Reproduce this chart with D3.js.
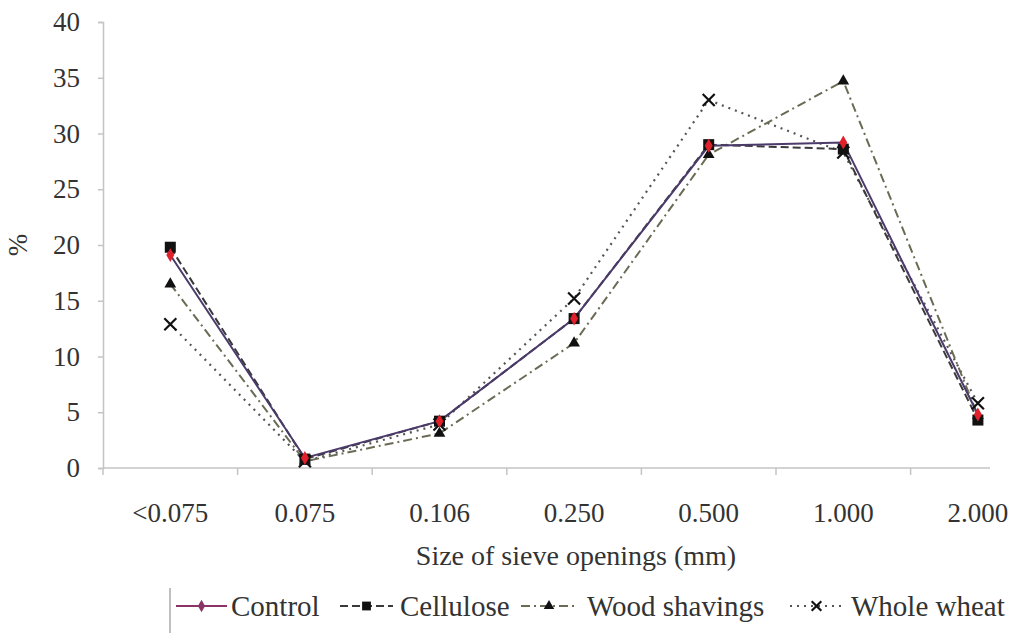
<!DOCTYPE html>
<html><head><meta charset="utf-8">
<script src="https://cdn.jsdelivr.net/npm/d3@7"></script>
<style>body{margin:0;background:#fff}svg{display:block}svg text{font-family:"Times New Roman",Times,"Liberation Serif","DejaVu Serif",serif !important;fill:#333}</style>
</head><body>
<svg id="c" width="1022" height="633"></svg>
<script>
const categories = ["<0.075","0.075","0.106","0.250","0.500","1.000","2.000"];
const yTicks = [0,5,10,15,20,25,30,35,40];
const seriesNames = ["Control","Cellulose","Wood shavings","Whole wheat"];
const control = [19.1,0.9,4.2,13.4,28.9,29.2,4.8];
const cellulose = [19.8,0.8,4.2,13.4,29.0,28.6,4.3];
const woodShavings = [16.5,0.6,3.1,11.2,28.1,34.7,4.7];
const wholeWheat = [12.9,0.6,3.9,15.2,33.0,28.3,5.8];

const FONT = "'Times New Roman', Times, 'Liberation Serif', 'DejaVu Serif', serif";
const styles = [
  {stroke:"#4b3a6a", dash:null, width:2, marker:"diamond", mfill:"#e0202a", lstroke:"#8a3466", lfill:"#8a3466"},
  {stroke:"#3a3a3a", dash:"8,4", width:2, marker:"square", mfill:"#111"},
  {stroke:"#6b6b55", dash:"9,4,2,4", width:2, marker:"triangle", mfill:"#111"},
  {stroke:"#555", dash:"2,5", width:2.2, marker:"cross", mfill:"#111"}
];
const data = [control, cellulose, woodShavings, wholeWheat];

const svg = d3.select("#c");
const left = 103, step = 134.6;
const x = d3.scaleBand().domain(categories).range([left, left + step*categories.length]).padding(0);
const y = d3.scaleLinear().domain([0,40]).range([468,22]);

// y axis
const ya = svg.append("g").attr("transform",`translate(${left},0)`)
  .call(d3.axisLeft(y).tickValues(yTicks).tickSize(5).tickPadding(18));
ya.attr("font-family",FONT);
ya.select(".domain").attr("stroke","#c4c4c4").attr("stroke-width",1.5);
ya.selectAll(".tick line").attr("stroke","#c4c4c4").attr("stroke-width",1.5);
ya.selectAll("text").attr("font-size",27).attr("fill","#333");

// x axis
const xa = svg.append("g").attr("transform",`translate(0,468)`)
  .call(d3.axisBottom(x).tickSize(0).tickPadding(35));
xa.attr("font-family",FONT);
xa.select(".domain").remove();
xa.selectAll("text").attr("font-size",27).attr("fill","#333");
svg.append("line").attr("x1",left).attr("x2",990).attr("y1",468).attr("y2",468)
  .attr("stroke","#c4c4c4").attr("stroke-width",1.5);
categories.forEach(c=>{
  const bx = x(c);
  if (bx <= 990) svg.append("line").attr("x1",bx).attr("x2",bx).attr("y1",468).attr("y2",475)
    .attr("stroke","#c4c4c4").attr("stroke-width",1.5);
});

// titles
svg.append("text").attr("x",576).attr("y",565).attr("text-anchor","middle").attr("font-size",28).text("Size of sieve openings (mm)");
svg.append("text").attr("transform","translate(27,245) rotate(-90)").attr("text-anchor","middle").attr("font-size",27).text("%");

function marker(g, type, cx, cy, fill, s){
  s = s||1;
  if(type==="diamond") g.append("path").attr("d",d3.symbol(d3.symbolDiamond, 55*s)()).attr("transform",`translate(${cx},${cy})`).attr("fill",fill);
  else if(type==="square") g.append("rect").attr("x",cx-5.5*s).attr("y",cy-5.5*s).attr("width",11*s).attr("height",11*s).attr("fill",fill);
  else if(type==="triangle") g.append("path").attr("d",d3.symbol(d3.symbolTriangle, 60*s)()).attr("transform",`translate(${cx},${cy})`).attr("fill",fill);
  else if(type==="cross") g.append("path").attr("d",`M${cx-6*s},${cy-6*s}L${cx+6*s},${cy+6*s}M${cx-6*s},${cy+6*s}L${cx+6*s},${cy-6*s}`).attr("stroke",fill).attr("stroke-width",2.2);
}

const line = d3.line().x((d,i)=>x(categories[i])+x.bandwidth()/2).y(d=>y(d));
const order = [3,2,1,0];
order.forEach(si=>{
  const st = styles[si];
  svg.append("path").datum(data[si]).attr("d",line).attr("fill","none")
    .attr("stroke",st.stroke).attr("stroke-width",st.width).attr("stroke-dasharray",st.dash);
});
order.forEach(si=>{
  const st = styles[si];
  const g = svg.append("g");
  data[si].forEach((v,i)=>marker(g, st.marker, x(categories[i])+x.bandwidth()/2, y(v), st.mfill));
});

// legend
svg.append("line").attr("x1",170).attr("x2",170).attr("y1",588).attr("y2",633).attr("stroke","#aaa").attr("stroke-width",1.5);
const legendPos = [{lx:176,lx2:227,tx:231},{lx:340,lx2:393,tx:400},{lx:521,lx2:577,tx:587},{lx:790,lx2:843,tx:851}];
seriesNames.forEach((n,si)=>{
  const st = styles[si], p = legendPos[si], ly = 606;
  svg.append("line").attr("x1",p.lx).attr("x2",p.lx2).attr("y1",ly).attr("y2",ly)
    .attr("stroke",st.lstroke||st.stroke).attr("stroke-width",2).attr("stroke-dasharray",st.dash);
  const g = svg.append("g");
  marker(g, st.marker, (p.lx+p.lx2)/2, ly, st.lfill||st.mfill, 0.8);
  svg.append("text").attr("x",p.tx).attr("y",ly+10).attr("font-size",29).text(n);
});
</script>
</body></html>
